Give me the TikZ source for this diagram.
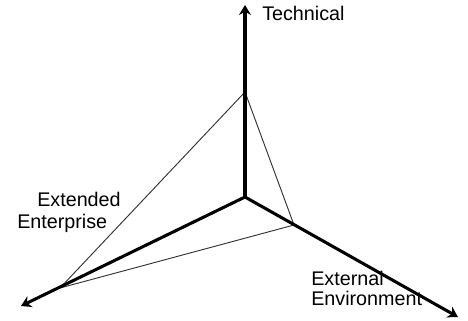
\documentclass[tikz,border=0pt]{standalone}
\usepackage{fontspec}
\setmainfont{Liberation Sans}
\usetikzlibrary{positioning,arrows.meta}

\begin{document}
\begin{tikzpicture}[
    x=0.75pt, y=0.75pt,
    axis/.style={line width=2.3pt, -{Stealth[length=7.5pt, width=9pt, inset=2.5pt]}},
    tri/.style={line width=0.7pt, color=black!80},
    lbl/.style={anchor=base west, inner sep=0pt, font=\fontsize{14.8}{17}\selectfont},
]
\useasboundingbox (0,0) rectangle (468,321);
% axes
\coordinate (o) at (245,124);
\coordinate (tech) at (245,316);
\coordinate (ext) at (21,15);
\coordinate (env) at (458,4);
% triangle corners
\coordinate (t1) at (245,229);
\coordinate (t2) at (294,96);
\coordinate (t3) at (60,33);
\draw[tri] (t1)--(t2)--(t3)--cycle;
\draw[axis] (o)--(tech);
\draw[axis] (o)--(ext);
\draw[axis] (o)--(env);
% labels
\node[lbl] (ltech) at (262,300) {Technical};
\node[lbl] (lext1) at (37,114) {Extended};
\node[lbl] (lext2) at (17,92) {Enterprise};
\node[lbl] (lenv1) at (311,35) {External};
\node[lbl] (lenv2) at (311,15) {Environment};
\end{tikzpicture}
\end{document}
